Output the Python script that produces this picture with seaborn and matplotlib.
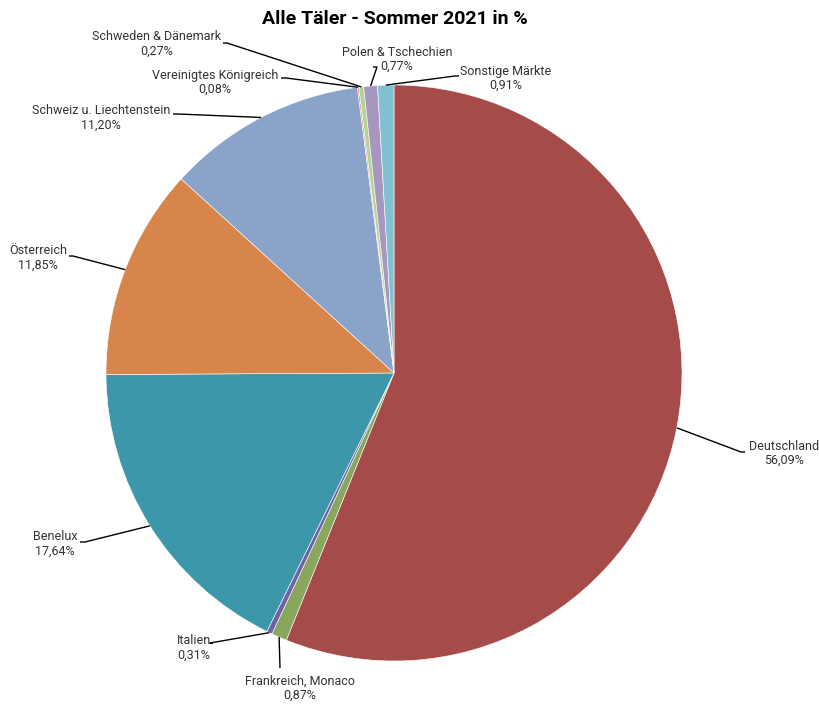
import numpy as np
import matplotlib.pyplot as plt
import seaborn as sns

# Marktanteile Sommer 2021, im Uhrzeigersinn ab 12 Uhr
maerkte = ["Deutschland", "Frankreich, Monaco", "Italien", "Benelux", "Österreich",
           "Schweiz u. Liechtenstein", "Vereinigtes Königreich", "Schweden & Dänemark",
           "Polen & Tschechien", "Sonstige Märkte"]
anteile = [56.09, 0.87, 0.31, 17.64, 11.85, 11.20, 0.08, 0.27, 0.77, 0.91]
farben = ["#a54c4b", "#89a75c", "#6f61a6", "#3d97ab", "#d7854a",
          "#8aa3c8", "#e07a78", "#b3d294", "#a797bf", "#80c0d1"]

# label layout in pixels (text centre, elbow of the leader line)
label_xy = [(784, 453), (300, 688), (194, 648), (55, 544), (38, 258),
            (101, 118), (215, 82), (157, 44), (397, 59), (506, 78)]
elbow_xy = [(745, 452), (280, 668), (213, 643), (80, 542), (69, 256),
            (173, 114), (281, 78), (223, 43), (373, 67), (459, 76)]
elbow_end = [(741, 452), (280, 668), (210, 643), (85, 542), (73, 256),
             (178, 114), (286, 78), (227, 43), (377, 67), (455, 76)]

CX, CY, R = 394, 373, 288


def px2d(p):
    return (p[0] - CX) / R, (CY - p[1]) / R


sns.set_theme(style="white")
plt.rcParams['font.family'] = ['Roboto', 'DejaVu Sans']

fig = plt.figure(figsize=(8.2, 7.04), dpi=100)
ax = fig.add_axes([0, 0, 1, 1])
wedges, _ = ax.pie(anteile, colors=farben, startangle=90, counterclock=False,
                   radius=1, wedgeprops=dict(edgecolor="white", linewidth=0.4))
ax.set_aspect("auto")
ax.set_xlim(-CX / R, (820 - CX) / R)
ax.set_ylim((CY - 704) / R, CY / R)
ax.axis("off")

for w, name, val, lxy, exy, eend in zip(wedges, maerkte, anteile, label_xy, elbow_xy, elbow_end):
    ang = np.deg2rad((w.theta1 + w.theta2) / 2)
    x0, y0 = np.cos(ang), np.sin(ang)
    ex, ey = px2d(exy)
    fx, fy = px2d(eend)
    ax.plot([x0, fx, ex], [y0, fy, ey], color="black", lw=1.0, solid_capstyle="butt")
    tx, ty = px2d(lxy)
    pct = f"{val:.2f}%".replace(".", ",")
    ax.text(tx, ty, f"{name}\n{pct}", ha="center", va="center", fontsize=9, color="#333333",
            linespacing=1.1)

fig.text(395 / 820, 1 - 19 / 704, "Alle Täler - Sommer 2021 in %", ha="center", va="center",
         fontsize=14, fontweight="bold", color="black")

fig.savefig("out.png", dpi=100)
